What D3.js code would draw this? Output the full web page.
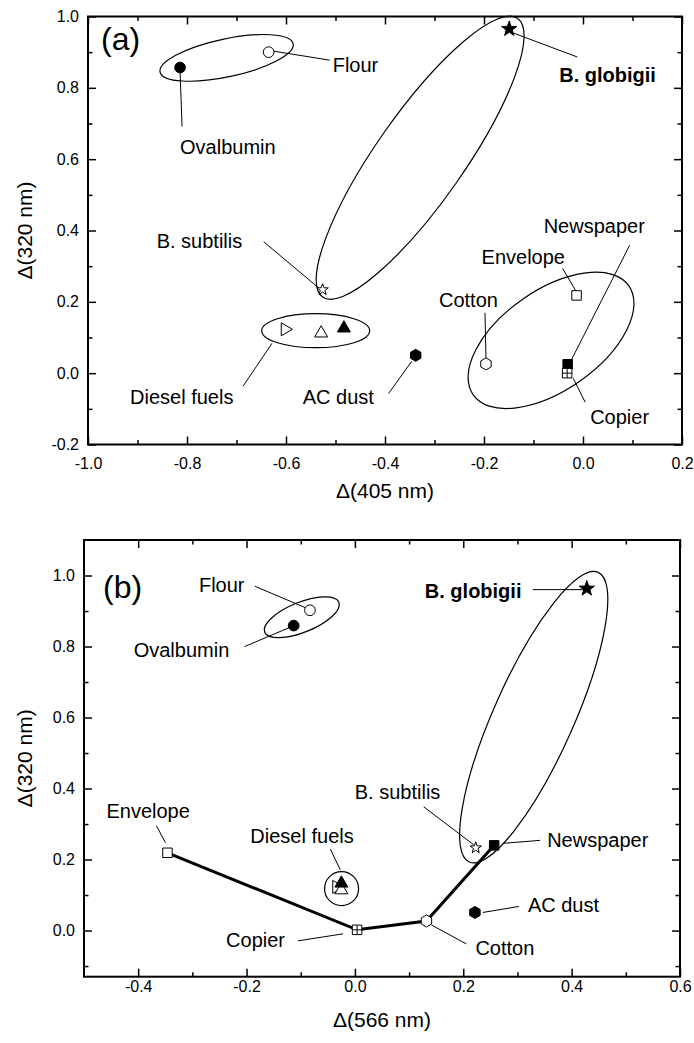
<!DOCTYPE html>
<html>
<head>
<meta charset="utf-8">
<script src="https://cdn.jsdelivr.net/npm/d3@7"></script>
<style>
  body { margin: 0; background: #fff; }
  text { font-family: "Liberation Sans", Arial, sans-serif; fill: #000; }
</style>
</head>
<body>
<svg id="chart" width="694" height="1043"></svg>
<script>
// sample names (three diesel fuels share one label)
const samples = ["Ovalbumin", "Flour", "B. globigii", "B. subtilis", "Diesel fuel 1", "Diesel fuel 2",
                 "Diesel fuel 3", "AC dust", "Cotton", "Envelope", "Newspaper", "Copier"];

// panel (a): delta(405 nm) vs delta(320 nm)
const delta405  = [-0.814, -0.635, -0.149, -0.526, -0.602, -0.529, -0.483, -0.338, -0.196, -0.013, -0.031, -0.032];
const delta320a = [ 0.857,  0.900,  0.965,  0.234,  0.123,  0.112,  0.126,  0.050,  0.026,  0.218,  0.025,  0.000];

// panel (b): delta(566 nm) vs delta(320 nm)
const delta566  = [-0.113, -0.083,  0.428,  0.223, -0.034, -0.025, -0.025,  0.2215, 0.132, -0.346,  0.257,  0.004];
const delta320b = [ 0.859,  0.902,  0.963,  0.233,  0.123,  0.114,  0.133,  0.051,  0.027,  0.219,  0.240,  0.002];

// paper samples joined by the thick line in (b)
const pathOrder = ["Envelope", "Copier", "Cotton", "Newspaper"];

// ticks
const xTicksA = [-1.0, -0.8, -0.6, -0.4, -0.2, 0.0, 0.2];
const xMinorA = [-0.9, -0.7, -0.5, -0.3, -0.1, 0.1];
const yTicksA = [-0.2, 0.0, 0.2, 0.4, 0.6, 0.8, 1.0];
const yMinorA = [-0.1, 0.1, 0.3, 0.5, 0.7, 0.9];
const xTicksB = [-0.4, -0.2, 0.0, 0.2, 0.4, 0.6];
const xMinorB = [-0.3, -0.1, 0.1, 0.3, 0.5];
const yTicksB = [0.0, 0.2, 0.4, 0.6, 0.8, 1.0];
const yMinorB = [-0.1, 0.1, 0.3, 0.5, 0.7, 0.9];

// grouping ellipses: centre in data units, radii in px, angle in degrees
const ellipsesA = [
  { cx: -0.720, cy: 0.884, rx: 68,  ry: 19, a: -12 },
  { cx: -0.329, cy: 0.604, rx: 170, ry: 44, a: -55 },
  { cx: -0.540, cy: 0.119, rx: 54,  ry: 17, a: 0 },
  { cx: -0.0646, cy: 0.092, rx: 95, ry: 50, a: -35 }
];
const ellipsesB = [
  { cx: -0.098, cy: 0.8825, rx: 40, ry: 15, a: -22 },
  { cx: 0.330, cy: 0.601, rx: 158.5, ry: 40, a: -66 },
  { cx: -0.0246, cy: 0.118, rx: 17, ry: 17, a: 0 }
];

// labels: text offset and leader line offsets (px) from the sample's marker
const labelsA = [
  { at: "Flour", text: "Flour", tx: 64, ty: 20, l: [5, -1, 61, 8] },
  { at: "Ovalbumin", text: "Ovalbumin", tx: 0, ty: 86, l: [0, 4, 2, 59] },
  { at: "B. globigii", text: "B. globigii", bold: true, tx: 50, ty: 53, l: [4, 4, 68, 28] },
  { at: "B. subtilis", text: "B. subtilis", tx: -166, ty: -42, l: [-3, -1, -59, -48] },
  { at: "Diesel fuel 1", text: "Diesel fuels", tx: -155, ty: 75, l: [-13, 14, -42, 57] },
  { at: "AC dust", text: "AC dust", tx: -113, ty: 49, l: [-4, 6, -27, 38] },
  { at: "Cotton", text: "Cotton", tx: -47, ty: -57, l: [0, -6, -1, -51] },
  { at: "Envelope", text: "Envelope", tx: -95, ty: -31, l: [-1, -5, -14, -27] },
  { at: "Newspaper", text: "Newspaper", tx: -24, ty: -131, l: [2, -1, 62, -119] },
  { at: "Copier", text: "Copier", tx: 23, ty: 51, l: [6, 5, 18, 29] }
];
const labelsB = [
  { at: "Flour", text: "Flour", tx: -111, ty: -18, l: [-3, -2, -55, -24] },
  { at: "Ovalbumin", text: "Ovalbumin", tx: -160, ty: 31, l: [-2, 1, -49, 21] },
  { at: "B. globigii", text: "B. globigii", bold: true, tx: -162, ty: 9, l: [-2, 1, -54, 1] },
  { at: "Envelope", text: "Envelope", tx: -61, ty: -35, l: [-2, -10, -11, -27] },
  { at: "Diesel fuel 2", text: "Diesel fuels", tx: -91, ty: -47, l: [-1, -20, -11, -41] },
  { at: "Copier", text: "Copier", tx: -131, ty: 17, l: [-14, 4, -59, 11] },
  { at: "B. subtilis", text: "B. subtilis", tx: -121, ty: -49, l: [-2, -3, -52, -41] },
  { at: "Newspaper", text: "Newspaper", tx: 53, ty: 2, l: [9, -2, 46, -5] },
  { at: "AC dust", text: "AC dust", tx: 53, ty: 0, l: [8, 0, 44, -6] },
  { at: "Cotton", text: "Cotton", tx: 49, ty: 34, l: [5, 4, 40, 23] }
];

// marker shape / filled per sample
const markerStyle = {
  "Ovalbumin": ["circle", true],
  "Flour": ["circle", false],
  "B. globigii": ["star", true],
  "B. subtilis": ["starSmall", false],
  "Diesel fuel 1": ["triRight", false],
  "Diesel fuel 2": ["triUp", false],
  "Diesel fuel 3": ["triUp", true],
  "AC dust": ["hexagon", true],
  "Cotton": ["hexagon", false],
  "Envelope": ["square", false],
  "Newspaper": ["square", true],
  "Copier": ["squareCross", false]
};

function poly(n, r, startDeg) {
  let pts = d3.range(n).map(i => {
    let t = (startDeg + i * 360 / n) * Math.PI / 180;
    return [r * Math.cos(t), r * Math.sin(t)];
  });
  return "M" + pts.map(p => p[0].toFixed(2) + "," + p[1].toFixed(2)).join("L") + "Z";
}

function star(R) {
  let pts = d3.range(10).map(i => {
    let r = i % 2 === 0 ? R : R * 0.4;
    let t = (-90 + i * 36) * Math.PI / 180;
    return [r * Math.cos(t), r * Math.sin(t)];
  });
  return "M" + pts.map(p => p[0].toFixed(2) + "," + p[1].toFixed(2)).join("L") + "Z";
}

function markerPath(shape) {
  switch (shape) {
    case "circle": return d3.symbol(d3.symbolCircle, 90)();
    case "star": return star(8);
    case "starSmall": return star(6);
    case "triUp": return poly(3, 7.5, -90);
    case "triRight": return poly(3, 7.5, 0);
    case "hexagon": return poly(6, 6, -90);
    case "square": return "M-4.75,-4.75H4.75V4.75H-4.75Z";
    case "squareCross": return "M-4.75,-4.75H4.75V4.75H-4.75ZM0,-4.75V4.75M-4.75,0H4.75";
  }
}

const fmt = d => d.toFixed(1);

const panels = [
  {
    xs: delta405, ys: delta320a, xDomain: [-1.0, 0.2], yDomain: [-0.2, 1.0],
    xRange: [88, 682], yRange: [444.5, 16.5],
    xTicks: xTicksA, xMinor: xMinorA, yTicks: yTicksA, yMinor: yMinorA,
    xPad: 13, ellipses: ellipsesA, labels: labelsA, line: false,
    xTitle: "\u0394(405 nm)", tag: "(a)", tagPos: [13, 33.5], titleGap: 53
  },
  {
    xs: delta566, ys: delta320b, xDomain: [-0.5, 0.6], yDomain: [-0.13, 1.10],
    xRange: [84, 680], yRange: [976.7, 540],
    xTicks: xTicksB, xMinor: xMinorB, yTicks: yTicksB, yMinor: yMinorB,
    xPad: 4, ellipses: ellipsesB, labels: labelsB, line: true,
    xTitle: "\u0394(566 nm)", tag: "(b)", tagPos: [19, 58], titleGap: 50
  }
];

const svg = d3.select("#chart");
svg.append("rect").attr("width", 694).attr("height", 1043).attr("fill", "#fff");

panels.forEach(p => {
  const x = d3.scaleLinear().domain(p.xDomain).range(p.xRange);
  const y = d3.scaleLinear().domain(p.yDomain).range(p.yRange);
  const [x0, x1] = p.xRange, [y0, y1] = p.yRange;
  const g = svg.append("g");

  // axes: inward ticks on all four sides
  const axes = [
    [d3.axisBottom(x), `translate(0,${y0})`, p.xTicks, p.xMinor, true, p.xPad],
    [d3.axisTop(x), `translate(0,${y1})`, p.xTicks, p.xMinor, false, 0],
    [d3.axisLeft(y), `translate(${x0},0)`, p.yTicks, p.yMinor, true, 9],
    [d3.axisRight(y), `translate(${x1},0)`, p.yTicks, p.yMinor, false, 0]
  ];
  axes.forEach(([ax, tr, major, minor, labelled, pad]) => {
    const copy = ax.copy ? ax.copy() : ax;
    g.append("g").attr("transform", tr)
      .call(ax.tickValues(minor).tickSize(-4.5).tickFormat(""))
      .call(a => a.select(".domain").remove())
      .selectAll("line").attr("stroke-width", 1.5);
    const maj = g.append("g").attr("transform", tr)
      .call(ax.tickValues(major).tickSize(-8).tickPadding(pad).tickFormat(labelled ? fmt : ""))
      .call(a => a.select(".domain").remove());
    maj.selectAll("line").attr("stroke-width", 1.5);
    maj.selectAll("text").attr("font-size", 16).attr("font-family", null);
  });

  g.append("rect").attr("x", x0).attr("y", y1).attr("width", x1 - x0).attr("height", y0 - y1)
    .attr("fill", "none").attr("stroke", "#000").attr("stroke-width", 2);

  // titles
  g.append("text").attr("x", (x0 + x1) / 2).attr("y", y0 + p.titleGap)
    .attr("text-anchor", "middle").attr("font-size", 21).text(p.xTitle);
  g.append("text").attr("transform", `translate(32,${(y0 + y1) / 2}) rotate(-90)`)
    .attr("text-anchor", "middle").attr("font-size", 21).text("\u0394(320 nm)");
  g.append("text").attr("x", x0 + p.tagPos[0]).attr("y", y1 + p.tagPos[1])
    .attr("font-size", 32).text(p.tag);

  // ellipses
  g.selectAll("ellipse.group").data(p.ellipses).enter().append("ellipse")
    .attr("cx", d => x(d.cx)).attr("cy", d => y(d.cy))
    .attr("rx", d => d.rx).attr("ry", d => d.ry)
    .attr("transform", d => `rotate(${d.a},${x(d.cx)},${y(d.cy)})`)
    .attr("fill", "none").attr("stroke", "#000").attr("stroke-width", 1.2);

  const pos = name => {
    const i = samples.indexOf(name);
    return [x(p.xs[i]), y(p.ys[i])];
  };

  // thick line through paper samples
  if (p.line) {
    g.append("path")
      .attr("d", d3.line()(pathOrder.map(pos)))
      .attr("fill", "none").attr("stroke", "#000").attr("stroke-width", 3);
  }

  // leader lines
  g.selectAll("line.leader").data(p.labels).enter().append("line")
    .attr("x1", d => pos(d.at)[0] + d.l[0]).attr("y1", d => pos(d.at)[1] + d.l[1])
    .attr("x2", d => pos(d.at)[0] + d.l[2]).attr("y2", d => pos(d.at)[1] + d.l[3])
    .attr("stroke", "#000").attr("stroke-width", 1);

  // markers
  g.selectAll("path.marker").data(samples).enter().append("path")
    .attr("d", d => markerPath(markerStyle[d][0]))
    .attr("transform", (d, i) => `translate(${x(p.xs[i])},${y(p.ys[i])})`)
    .attr("fill", d => markerStyle[d][1] ? "#000" : "#fff")
    .attr("stroke", "#000").attr("stroke-width", 1);

  // labels
  g.selectAll("text.label").data(p.labels).enter().append("text")
    .attr("x", d => pos(d.at)[0] + d.tx).attr("y", d => pos(d.at)[1] + d.ty)
    .attr("font-size", 20).attr("font-weight", d => d.bold ? "bold" : null)
    .text(d => d.text);
});
</script>
</body>
</html>
